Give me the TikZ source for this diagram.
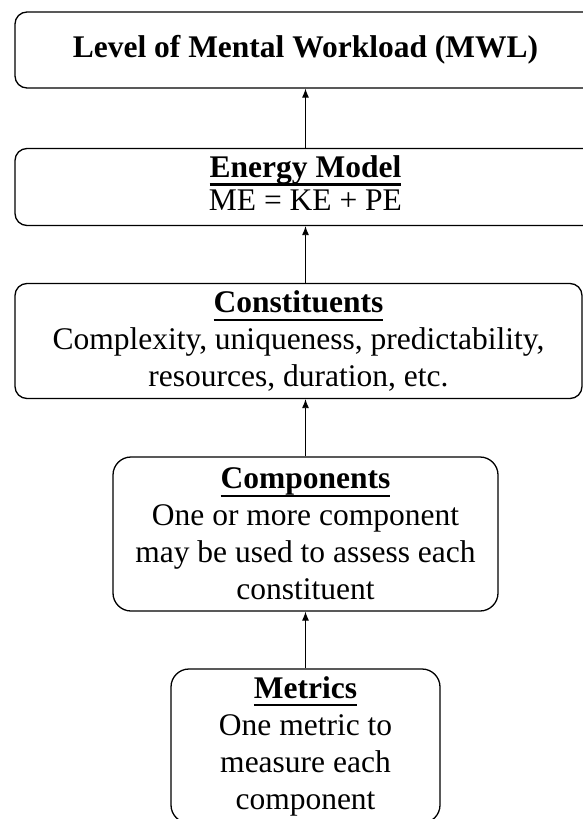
\documentclass[tikz,border=0pt]{standalone}
\usepackage{fontspec}
\setmainfont{Liberation Serif}
\usetikzlibrary{arrows.meta}
\tikzset{
	stage/.style    = {draw, line width = 1.3pt, rounded corners = 12pt,
		align = center, inner sep = 0pt},
	wide/.style     = {minimum width = 581pt},
	narrowbox/.style = {rounded corners = 18pt, minimum height = 154pt}
}
\newcommand{\heading}[1]{\setbox0=\hbox{\textbf{#1}}\rlap{\vrule width \wd0 height -6pt depth 8.3pt}\box0}

\begin{document}
\begin{tikzpicture}[x=1pt, y=-1pt, line width=0.9pt, >={Latex[length=9pt,width=7pt]},
	font=\fontsize{31.5}{37}\selectfont]

	\useasboundingbox (0,0) rectangle (583,819);

	\draw
	node at (305.5,50) [stage, wide, minimum height = 76pt] (mwl) {\textbf{Level of Mental Workload (MWL)}}
	node at (305.5,187) [stage, wide, minimum height = 77pt, text depth = 8pt] (energy) {\heading{Energy Model}\\[-4pt]ME = KE + PE}
	node at (298.5,341) [stage, minimum width = 567pt, minimum height = 115pt] (constit)
		{\heading{Constituents}\\Complexity, uniqueness, predictability,\\resources, duration, etc.}
	node at (305.5,534) [stage, narrowbox, minimum width = 385pt] (comp)
		{\heading{Components}\\One or more component\\may be used to assess each\\constituent}
	node at (305.5,746) [stage, narrowbox, minimum width = 269pt] (metrics)
		{\heading{Metrics}\\One metric to\\measure each\\component};

	\draw[->](energy)--(mwl);
	\draw[->](constit.north -| energy.south)--(energy.south);
	\draw[->](comp.north)--(comp.north |- constit.south);
	\draw[->](metrics)--(comp);

\end{tikzpicture}
\end{document}
